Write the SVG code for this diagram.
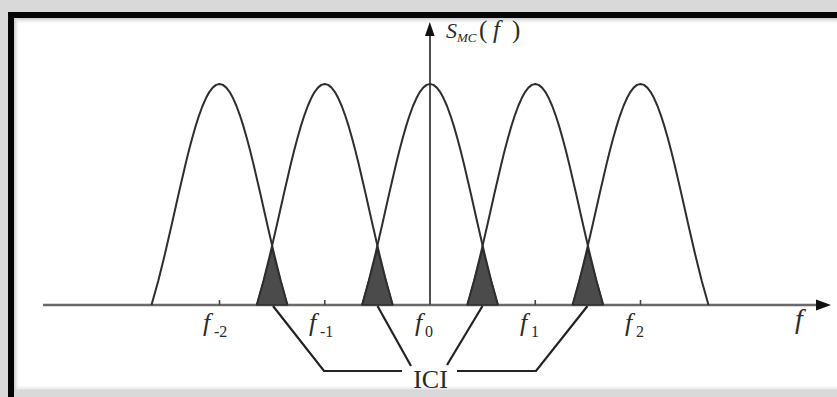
<svg xmlns="http://www.w3.org/2000/svg" xmlns:xlink="http://www.w3.org/1999/xlink" width="837" height="397" viewBox="0 0 837 397">
  <style>
    .curve { fill: none; stroke: #2e2e2e; stroke-width: 2; stroke-linejoin: round; }
    .axis { stroke: #6a6a6a; stroke-width: 2.6; fill: none; }
    .vaxis { stroke: #505050; stroke-width: 2; fill: none; }
    .tick { stroke: #444; stroke-width: 1.6; }
    .ici { fill: #4b4b4b; stroke: #1e1e1e; stroke-width: 1.2; stroke-linejoin: round; }
    .lead { fill: none; stroke: #222; stroke-width: 2.2; stroke-linejoin: miter; }
    .lbl { font-family: "Liberation Serif", "Times New Roman", serif; fill: #2a2a2a; }
    .it { font-style: italic; }
  </style>
  <defs>
    <path id="lobe" d="M -68,305 L -61.2,280.8 L -54.4,253.3 L -47.6,223.7 L -40.8,193.5 L -34,164.3 L -30.6,150.6 L -27.2,137.7 L -23.8,125.9 L -20.4,115.3 L -17,106 L -13.6,98.3 L -10.2,92.1 L -6.8,87.6 L -3.4,84.9 L 0,84 L 3.4,84.9 L 6.8,87.6 L 10.2,92.1 L 13.6,98.3 L 17,106 L 20.4,115.3 L 23.8,125.9 L 27.2,137.7 L 30.6,150.6 L 34,164.3 L 40.8,193.5 L 47.6,223.7 L 54.4,253.3 L 61.2,280.8 L 68,305"/>
    <linearGradient id="shadeTop" x1="0" y1="0" x2="0" y2="1">
      <stop offset="0" stop-color="#c8c8c8"/>
      <stop offset="1" stop-color="#ffffff" stop-opacity="0"/>
    </linearGradient>
    <linearGradient id="shadeBot" x1="0" y1="0" x2="0" y2="1">
      <stop offset="0" stop-color="#ffffff" stop-opacity="0"/>
      <stop offset="1" stop-color="#d0d0d0"/>
    </linearGradient>
    <linearGradient id="shadeLeft" x1="0" y1="0" x2="1" y2="0">
      <stop offset="0" stop-color="#c8c8c8"/>
      <stop offset="1" stop-color="#ffffff" stop-opacity="0"/>
    </linearGradient>
    <marker id="arrow" viewBox="0 0 10 10" refX="10" refY="5" markerWidth="10" markerHeight="10" markerUnits="userSpaceOnUse" orient="auto">
      <path d="M0,0 L10,5 L0,10 Z" fill="#111"/>
    </marker>
  </defs>

  <!-- frame -->
  <g id="frame">
    <rect x="0" y="0" width="837" height="397" fill="#d9d9d9"/>
    <rect x="14" y="18" width="823" height="373" fill="#ffffff"/>
    <rect x="14" y="18" width="823" height="7" fill="url(#shadeTop)"/>
    <rect x="14" y="384" width="823" height="7" fill="url(#shadeBot)"/>
    <rect x="14" y="18" width="6" height="373" fill="url(#shadeLeft)"/>
    <rect x="8" y="12" width="829" height="6" fill="#050505"/>
    <rect x="8" y="12" width="6" height="385" fill="#050505"/>
  </g>

  <!-- axes -->
  <g id="axes">
    <line class="axis" x1="43" y1="305" x2="818" y2="305"/>
    <path d="M816,299.5 L831,305 L816,310.5 Z" fill="#111"/>
    <line class="vaxis" x1="430" y1="305" x2="430" y2="34"/>
    <path d="M425,36 L429.8,22 L434.6,36 Z" fill="#111"/>
  </g>

  <!-- interference triangles -->
  <g id="ici-regions">
    <polygon class="ici" points="256.7,305 272.1,249 287.5,305"/>
    <polygon class="ici" points="362,305 377.4,249 392.8,305"/>
    <polygon class="ici" points="467.2,305 482.6,249 498,305"/>
    <polygon class="ici" points="572.5,305 587.9,249 603.3,305"/>
  </g>

  <!-- subcarrier spectra -->
  <g id="sub-m2"><use xlink:href="#lobe" class="curve" transform="translate(219.5,0)"/><line class="tick" x1="219.5" y1="300" x2="219.5" y2="305"/></g>
  <g id="sub-m1"><use xlink:href="#lobe" class="curve" transform="translate(324.75,0)"/><line class="tick" x1="324.75" y1="300" x2="324.75" y2="305"/></g>
  <g id="sub-0"><use xlink:href="#lobe" class="curve" transform="translate(430,0)"/></g>
  <g id="sub-p1"><use xlink:href="#lobe" class="curve" transform="translate(535.25,0)"/><line class="tick" x1="535.25" y1="300" x2="535.25" y2="305"/></g>
  <g id="sub-p2"><use xlink:href="#lobe" class="curve" transform="translate(640.5,0)"/><line class="tick" x1="640.5" y1="300" x2="640.5" y2="305"/></g>

  <!-- connectors -->
  <g id="connectors">
    <polyline class="lead" points="273,306 324,371 402,371"/>
    <polyline class="lead" points="377.5,306 411,366"/>
    <polyline class="lead" points="482.5,306 447,365"/>
    <polyline class="lead" points="587.5,306 536,371 457,371"/>
  </g>

  <!-- labels -->
  <g id="label-smc" class="lbl">
    <text x="446" y="38" class="it" font-size="22">S</text>
    <text x="457" y="42" class="it" font-size="13">MC</text>
    <text x="479" y="38" font-size="25">(</text>
    <text x="493" y="38" class="it" font-size="25">f</text>
    <text x="512" y="38" font-size="25">)</text>
  </g>
  <g id="label-fm2" class="lbl"><text x="203" y="331" class="it" font-size="26">f</text><text x="214" y="337" font-size="16">-2</text></g>
  <g id="label-fm1" class="lbl"><text x="309" y="331" class="it" font-size="26">f</text><text x="320" y="337" font-size="16">-1</text></g>
  <g id="label-f0" class="lbl"><text x="415" y="331" class="it" font-size="26">f</text><text x="425" y="337" font-size="16">0</text></g>
  <g id="label-f1" class="lbl"><text x="520" y="331" class="it" font-size="26">f</text><text x="531" y="337" font-size="16">1</text></g>
  <g id="label-f2" class="lbl"><text x="625" y="331" class="it" font-size="26">f</text><text x="636" y="337" font-size="16">2</text></g>
  <g id="label-f" class="lbl"><text x="795" y="328" class="it" font-size="28">f</text></g>
  <g id="label-ici" class="lbl"><text x="430.5" y="388" font-size="26" text-anchor="middle">ICI</text></g>
</svg>
